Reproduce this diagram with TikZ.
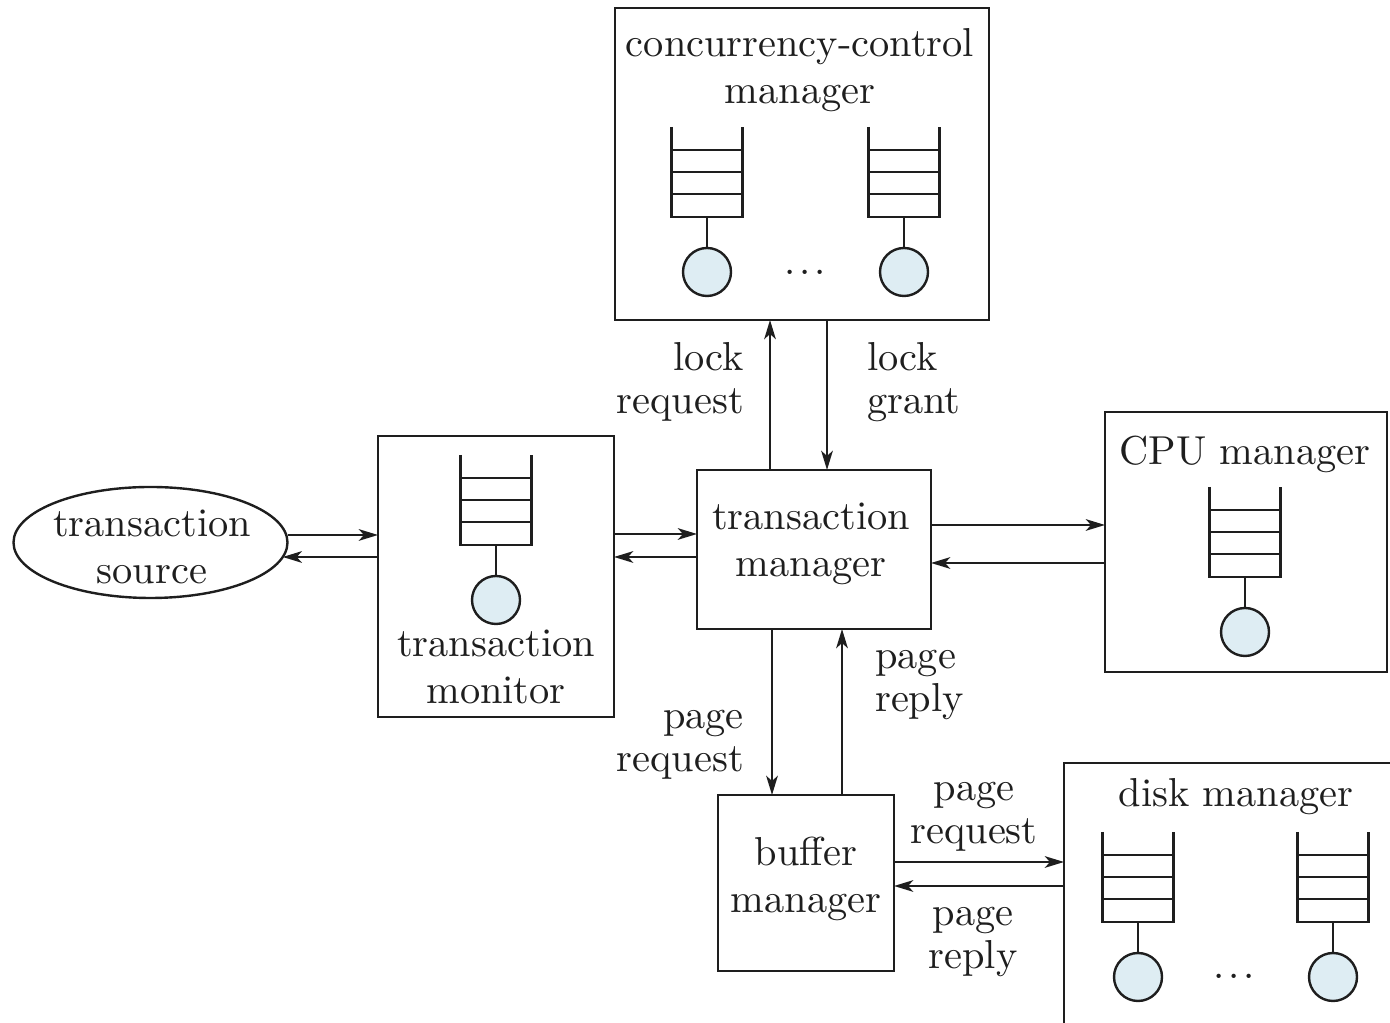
\documentclass[tikz,border=0pt]{standalone}
\usetikzlibrary{arrows.meta,shapes.geometric,fit}
\definecolor{cfill}{RGB}{222,237,243}
\definecolor{ink}{RGB}{30,30,30}
\tikzset{
  qpic/.pic={
    \draw (-35.5,0) -- (-35.5,90) -- (35.5,90) -- (35.5,0);
    \draw (-35.5,23) -- (35.5,23) (-35.5,45) -- (35.5,45) (-35.5,67) -- (35.5,67);
    \draw (0,90) -- (0,121);
    \draw[fill=cfill] (0,145) circle[radius=24];
  }
}
\begin{document}
\begin{tikzpicture}[x=0.25pt,y=-0.25pt,line width=0.6pt,color=ink,
  box/.style={draw, rectangle, inner sep=0pt, outer sep=0pt, fit={#1}},
  boxtxt/.style={inner sep=0pt, align=center, font=\fontsize{10.1}{11.75}\selectfont},
  lbl/.style={inner sep=0pt, font=\fontsize{10.1}{10.75}\selectfont},
  arr/.style={-{Stealth[length=4.8pt,width=2.9pt,inset=1.3pt]}}]
\useasboundingbox (0,0) rectangle (1390,1023);
\clip (0,0) rectangle (1390,1023);

% boxes
\node[box={(615,8) (989,320)}] (cc) {};
\node[box={(378,436) (614,717)}] (tmon) {};
\node[box={(697,470) (931,629)}] (tm) {};
\node[box={(1105,412) (1387,672)}] (cpu) {};
\node[box={(718,795) (894,971)}] (buf) {};
\node[box={(1064,763) (1420,1060)}] (disk) {};
\node[draw, ellipse, inner sep=0pt, outer sep=0pt, minimum width=274*0.25pt, minimum height=111*0.25pt] (src) at (150.5,542.5) {};

% box texts
\node[boxtxt] (cct) at (800,71) {\strut concurrency-control\\\strut manager};
\node[boxtxt] (tmt) at (811,544) {\strut transaction\\\strut manager};
\node[boxtxt] (tmont) at (496,671) {\strut transaction\\\strut monitor};
\node[boxtxt] (buft) at (806,880) {\strut buffer\\\strut manager};
\node[boxtxt] (srct) at (152,551) {\strut transaction\\\strut source};
\node[boxtxt] (cput) at (1245,455.6) {\strut CPU manager};
\node[boxtxt] (diskt) at (1236,797.6) {\strut disk manager};

% queues
\pic at (707,127) {qpic};
\pic at (904,127) {qpic};
\pic at (496,455) {qpic};
\pic at (1245,487) {qpic};
\pic at (1138,832) {qpic};
\pic at (1333,832) {qpic};
\node[boxtxt, anchor=base] (dots1) at (805,275) {.\kern0.9pt.\kern0.9pt.};
\node[boxtxt, anchor=base] (dots2) at (1234,979) {.\kern0.9pt.\kern0.9pt.};

% labels
\node[lbl, align=right, anchor=east] (lreq) at (745,383) {\strut lock\\\strut request};
\node[lbl, align=left, anchor=west] (lgr) at (866,383) {\strut lock\\\strut grant};
\node[lbl, align=left, anchor=west] (prep1) at (874,681) {\strut page\\\strut reply};
\node[lbl, align=right, anchor=east] (preq1) at (745,741) {\strut page\\\strut request};
\node[lbl, align=center] (preq2) at (974,813) {\strut page\\\strut request};
\node[lbl, align=center] (prep2) at (973,938) {\strut page\\\strut reply};

% connectors
\draw[arr] (src.east |- 0,535) -- (tmon.west |- 0,535);
\draw[arr] (tmon.west |- 0,557) -- ([xshift=-1.2pt]src.east |- 0,557);
\draw[arr] (tmon.east |- 0,534) -- (tm.west |- 0,534);
\draw[arr] (tm.west |- 0,557) -- (tmon.east |- 0,557);
\draw[arr] (tm.east |- 0,525) -- (cpu.west |- 0,525);
\draw[arr] (cpu.west |- 0,563) -- (tm.east |- 0,563);
\draw[arr] (tm.north -| 770,0) -- (cc.south -| 770,0);
\draw[arr] (cc.south -| 827,0) -- (tm.north -| 827,0);
\draw[arr] (tm.south -| 772,0) -- (buf.north -| 772,0);
\draw[arr] (buf.north -| 842,0) -- (tm.south -| 842,0);
\draw[arr] (buf.east |- 0,862) -- (disk.west |- 0,862);
\draw[arr] (disk.west |- 0,886) -- (buf.east |- 0,886);
\end{tikzpicture}
\end{document}
